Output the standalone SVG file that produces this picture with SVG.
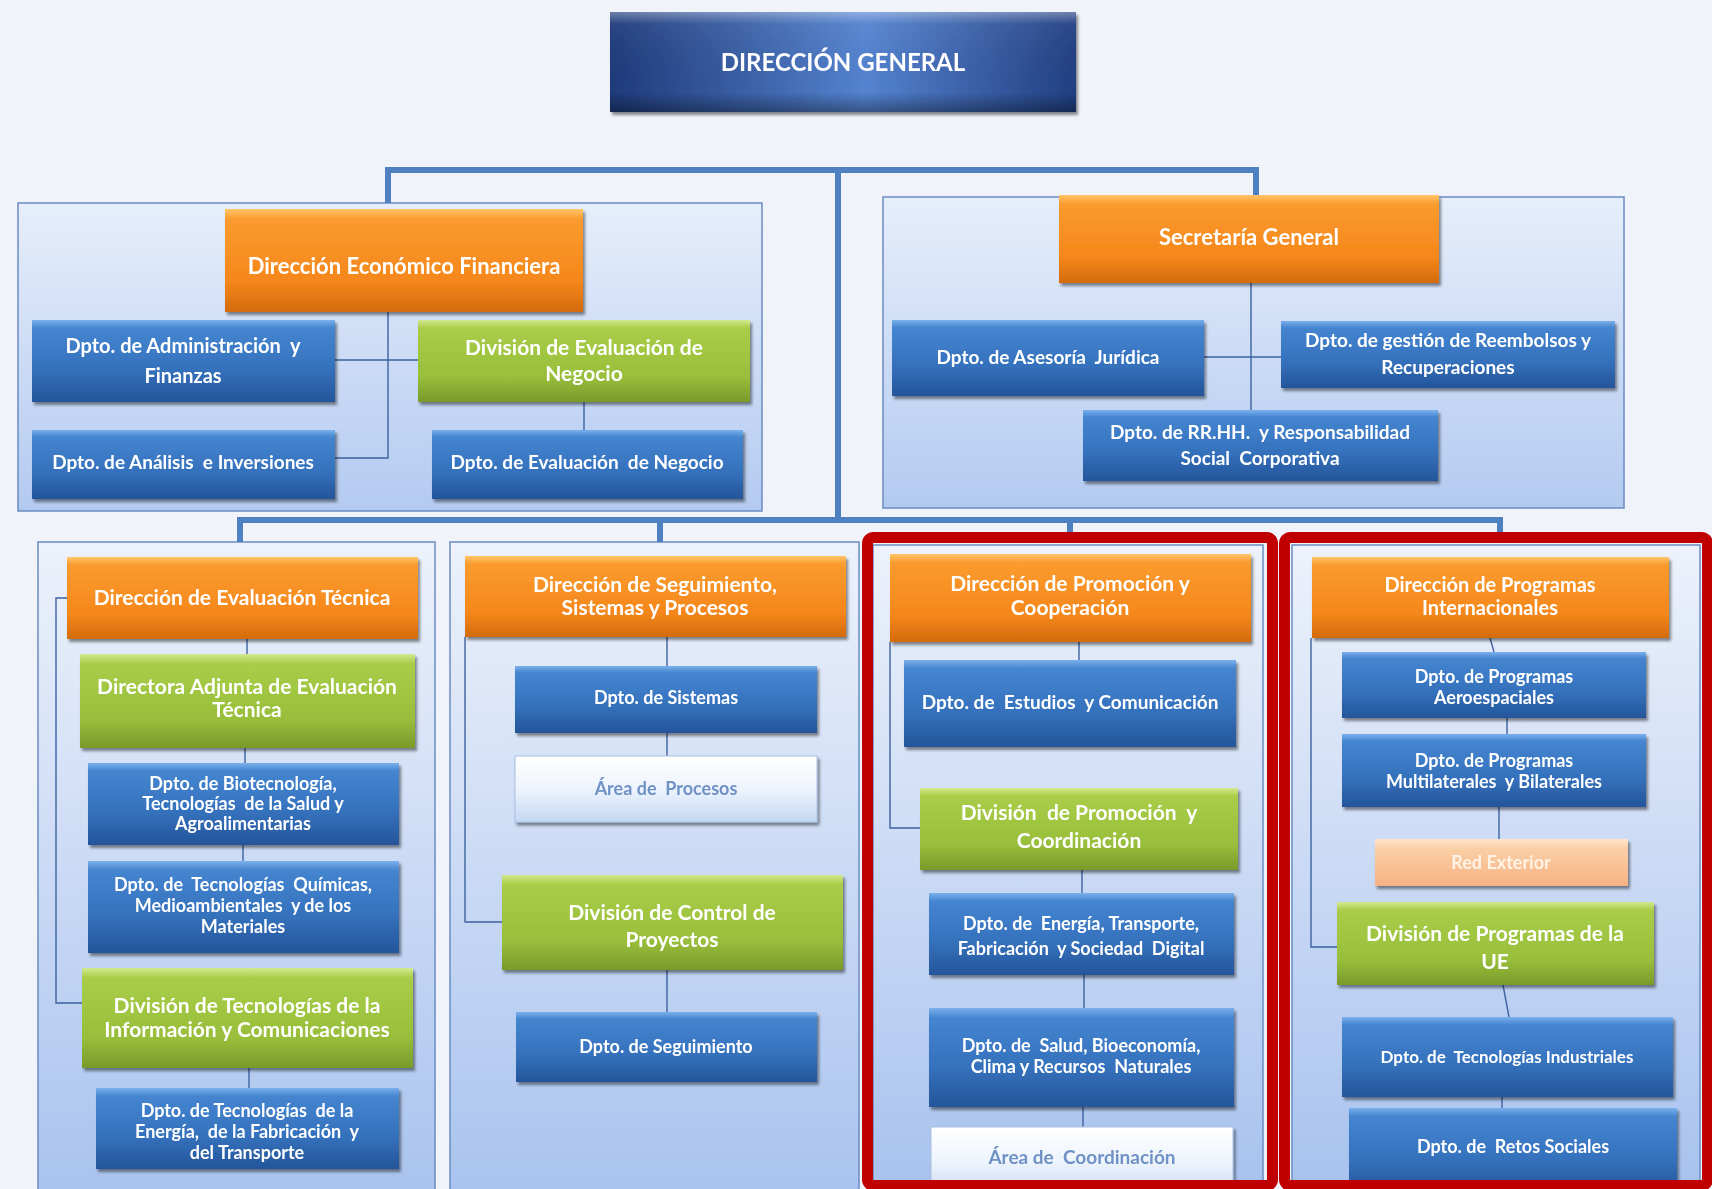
<svg xmlns="http://www.w3.org/2000/svg" width="1712" height="1189" viewBox="0 0 1712 1189">
<defs>
<linearGradient id="gBlue" x1="0" y1="0" x2="0" y2="1"><stop offset="0" stop-color="#7ab0ec"/><stop offset="0.1" stop-color="#4585d0"/><stop offset="0.6" stop-color="#3571bc"/><stop offset="1" stop-color="#24559a"/></linearGradient>
<linearGradient id="gOrange" x1="0" y1="0" x2="0" y2="1"><stop offset="0" stop-color="#ffc56a"/><stop offset="0.1" stop-color="#fb9b2e"/><stop offset="0.7" stop-color="#f5871b"/><stop offset="1" stop-color="#d36b0c"/></linearGradient>
<linearGradient id="gGreen" x1="0" y1="0" x2="0" y2="1"><stop offset="0" stop-color="#d3e88f"/><stop offset="0.1" stop-color="#a9cd48"/><stop offset="0.7" stop-color="#98be3b"/><stop offset="1" stop-color="#799a2a"/></linearGradient>
<linearGradient id="gLight" x1="0" y1="0" x2="0" y2="1"><stop offset="0" stop-color="#ffffff"/><stop offset="0.5" stop-color="#eef4fc"/><stop offset="1" stop-color="#c3d7f3"/></linearGradient>
<linearGradient id="gPeach" x1="0" y1="0" x2="0" y2="1"><stop offset="0" stop-color="#fde4cb"/><stop offset="0.2" stop-color="#fbcfa6"/><stop offset="1" stop-color="#f6b283"/></linearGradient>
<linearGradient id="gDG" x1="0" y1="0" x2="1" y2="0"><stop offset="0" stop-color="#1f3a7a"/><stop offset="0.55" stop-color="#5483d0"/><stop offset="1" stop-color="#223f82"/></linearGradient>
<linearGradient id="gDGv" x1="0" y1="0" x2="0" y2="1"><stop offset="0" stop-color="#ffffff" stop-opacity="0.35"/><stop offset="0.12" stop-color="#ffffff" stop-opacity="0.05"/><stop offset="0.8" stop-color="#000000" stop-opacity="0"/><stop offset="1" stop-color="#000000" stop-opacity="0.35"/></linearGradient>
<linearGradient id="gPanelTop" x1="0" y1="0" x2="0" y2="1"><stop offset="0" stop-color="#e6eefb"/><stop offset="1" stop-color="#b3caf0"/></linearGradient>
<linearGradient id="gPanel" x1="0" y1="0" x2="0" y2="1"><stop offset="0" stop-color="#edf2fb"/><stop offset="1" stop-color="#a6c1ee"/></linearGradient>
<filter id="sh" x="-5%" y="-10%" width="115%" height="130%"><feDropShadow dx="2" dy="3" stdDeviation="1.8" flood-color="#000" flood-opacity="0.45"/></filter>
</defs>
<style>
text{font-family:Lato,"Open Sans","Liberation Sans",sans-serif;font-weight:700;text-anchor:middle;fill:#ffffff;white-space:pre}
.t18{font-size:18px}.t19{font-size:19px}.t20{font-size:20px}.t21{font-size:21px}.t22{font-size:22px}
.panel{stroke:#6a8cc2;stroke-width:1.5}
.box{filter:url(#sh)}
.blue{fill:url(#gBlue)}.orange{fill:url(#gOrange)}.green{fill:url(#gGreen)}.light{fill:url(#gLight)}.peach{fill:url(#gPeach)}
.lt{fill:#6f91c6}.pt{fill:#fff3e6}
.bus{fill:none;stroke:#4f80c0;stroke-width:6}
.ln{fill:none;stroke:#3d62a0;stroke-width:1.4}
.red{fill:none;stroke:#c00000;stroke-width:11}
</style>
<rect width="1712" height="1189" fill="#f0f3fa"/>

<g id="panels">
<rect class="panel" x="18" y="203" width="744" height="308" fill="url(#gPanelTop)"/>
<rect class="panel" x="883" y="197" width="741" height="311" fill="url(#gPanelTop)"/>
<rect class="panel" x="38" y="542" width="397" height="680" fill="url(#gPanel)"/>
<rect class="panel" x="450" y="542" width="409" height="680" fill="url(#gPanel)"/>
<rect class="panel" x="873" y="545" width="390" height="660" fill="url(#gPanel)"/>
<rect class="panel" x="1292" y="545" width="408" height="660" fill="url(#gPanel)"/>
</g>

<g id="connectors">
<path class="bus" d="M388,203 V170 H1256 V197"/>
<path class="bus" d="M838,170 V520"/>
<path class="bus" d="M240,542 V520 H1500 V532 M660,520 V542 M1070,520 V532"/>
<path class="ln" d="M388,312 V458 H335 M335,360 H418 M584,402 V430"/>
<path class="ln" d="M1251,283 V410 M1204,357 H1281"/>
<path class="ln" d="M67,598 H56 V1003 H82 M247,639 V654 M245,748 V763 M243,845 V861 M249,1068 V1088"/>
<path class="ln" d="M465,637 V922 H502 M667,637 V666 M667,733 V756 M667,970 V1012"/>
<path class="ln" d="M890,642 V828 H920 M1079,642 V660 M1082,870 V893 M1084,975 V1008 M1083,1107 V1127"/>
<path class="ln" d="M1311,638 V947 H1337 M1490,638 L1494,652 M1507,718 V734 M1499,807 V839 M1503,985 L1509,1017 M1502,1097 V1108"/>
</g>

<g id="n-dg" class="box">
<rect x="610" y="12" width="466" height="100" fill="url(#gDG)"/>
<rect x="610" y="12" width="466" height="100" fill="url(#gDGv)"/>
<text x="843" y="71" style="font-size:24px">DIRECCIÓN GENERAL</text>
</g>

<g id="n-def" class="box"><rect class="orange" x="225" y="209" width="358" height="103"/><text class="t22" x="404" y="274">Dirección Económico Financiera</text></g>
<g id="n-admin" class="box"><rect class="blue" x="32" y="320" width="303" height="82"/><text class="t20" x="183" y="353">Dpto. de Administración  y</text><text class="t20" x="183" y="383">Finanzas</text></g>
<g id="n-diveval" class="box"><rect class="green" x="418" y="320" width="332" height="82"/><text class="t21" x="584" y="355">División de Evaluación de</text><text class="t21" x="584" y="381">Negocio</text></g>
<g id="n-analisis" class="box"><rect class="blue" x="32" y="430" width="303" height="69"/><text class="t19" x="183" y="469">Dpto. de Análisis  e Inversiones</text></g>
<g id="n-evalneg" class="box"><rect class="blue" x="432" y="430" width="311" height="69"/><text class="t19" x="587" y="469">Dpto. de Evaluación  de Negocio</text></g>

<g id="n-sg" class="box"><rect class="orange" x="1059" y="195" width="380" height="88"/><text class="t22" x="1249" y="245">Secretaría General</text></g>
<g id="n-asesoria" class="box"><rect class="blue" x="892" y="320" width="312" height="76"/><text class="t19" x="1048" y="364">Dpto. de Asesoría  Jurídica</text></g>
<g id="n-reembolsos" class="box"><rect class="blue" x="1281" y="321" width="334" height="67"/><text class="t19" x="1448" y="347">Dpto. de gestión de Reembolsos y</text><text class="t19" x="1448" y="374">Recuperaciones</text></g>
<g id="n-rrhh" class="box"><rect class="blue" x="1083" y="410" width="355" height="71"/><text class="t19" x="1260" y="439">Dpto. de RR.HH.  y Responsabilidad</text><text class="t19" x="1260" y="465">Social  Corporativa</text></g>

<g id="n-det" class="box"><rect class="orange" x="67" y="557" width="351" height="82"/><text class="t21" x="242" y="605">Dirección de Evaluación Técnica</text></g>
<g id="n-diradj" class="box"><rect class="green" x="80" y="654" width="335" height="94"/><text class="t21" x="247" y="694">Directora Adjunta de Evaluación</text><text class="t21" x="247" y="717">Técnica</text></g>
<g id="n-biotec" class="box"><rect class="blue" x="88" y="763" width="311" height="82"/><text class="t18" x="243" y="790">Dpto. de Biotecnología,</text><text class="t18" x="243" y="810">Tecnologías  de la Salud y</text><text class="t18" x="243" y="830">Agroalimentarias</text></g>
<g id="n-quimicas" class="box"><rect class="blue" x="88" y="861" width="311" height="92"/><text class="t18" x="243" y="891">Dpto. de  Tecnologías  Químicas,</text><text class="t18" x="243" y="912">Medioambientales  y de los</text><text class="t18" x="243" y="933">Materiales</text></g>
<g id="n-divtic" class="box"><rect class="green" x="82" y="968" width="331" height="100"/><text class="t21" x="247" y="1013">División de Tecnologías de la</text><text class="t21" x="247" y="1037">Información y Comunicaciones</text></g>
<g id="n-energia" class="box"><rect class="blue" x="96" y="1088" width="303" height="81"/><text class="t18" x="247" y="1117">Dpto. de Tecnologías  de la</text><text class="t18" x="247" y="1138">Energía,  de la Fabricación  y</text><text class="t18" x="247" y="1159">del Transporte</text></g>

<g id="n-dssp" class="box"><rect class="orange" x="465" y="556" width="381" height="81"/><text class="t21" x="655" y="592">Dirección de Seguimiento,</text><text class="t21" x="655" y="615">Sistemas y Procesos</text></g>
<g id="n-sistemas" class="box"><rect class="blue" x="515" y="666" width="302" height="67"/><text class="t18" x="666" y="704">Dpto. de Sistemas</text></g>
<g id="n-procesos" class="box"><rect class="light" x="515" y="756" width="302" height="66" stroke="#a9c0e4" stroke-width="1"/><text class="t18 lt" x="666" y="795">Área de  Procesos</text></g>
<g id="n-divcontrol" class="box"><rect class="green" x="502" y="875" width="341" height="95"/><text class="t21" x="672" y="920">División de Control de</text><text class="t21" x="672" y="947">Proyectos</text></g>
<g id="n-seguimiento" class="box"><rect class="blue" x="516" y="1012" width="301" height="70"/><text class="t18" x="666" y="1053">Dpto. de Seguimiento</text></g>

<g id="n-dpc" class="box"><rect class="orange" x="890" y="554" width="361" height="88"/><text class="t21" x="1070" y="591">Dirección de Promoción y</text><text class="t21" x="1070" y="615">Cooperación</text></g>
<g id="n-estudios" class="box"><rect class="blue" x="904" y="660" width="332" height="87"/><text class="t19" x="1070" y="709">Dpto. de  Estudios  y Comunicación</text></g>
<g id="n-divprom" class="box"><rect class="green" x="920" y="788" width="318" height="82"/><text class="t21" x="1079" y="820">División  de Promoción  y</text><text class="t21" x="1079" y="848">Coordinación</text></g>
<g id="n-energiat" class="box"><rect class="blue" x="929" y="893" width="305" height="82"/><text class="t18" x="1081" y="930">Dpto. de  Energía, Transporte,</text><text class="t18" x="1081" y="955">Fabricación  y Sociedad  Digital</text></g>
<g id="n-salud" class="box"><rect class="blue" x="929" y="1008" width="305" height="99"/><text class="t18" x="1081" y="1052">Dpto. de  Salud, Bioeconomía,</text><text class="t18" x="1081" y="1073">Clima y Recursos  Naturales</text></g>
<g id="n-coord" class="box"><rect class="light" x="931" y="1127" width="302" height="70" stroke="#a9c0e4" stroke-width="1"/><text class="t19 lt" x="1082" y="1164">Área de  Coordinación</text></g>

<g id="n-dpi" class="box"><rect class="orange" x="1312" y="557" width="357" height="81"/><text class="t20" x="1490" y="592">Dirección de Programas</text><text class="t20" x="1490" y="615">Internacionales</text></g>
<g id="n-aero" class="box"><rect class="blue" x="1342" y="652" width="304" height="66"/><text class="t18" x="1494" y="683">Dpto. de Programas</text><text class="t18" x="1494" y="704">Aeroespaciales</text></g>
<g id="n-multi" class="box"><rect class="blue" x="1342" y="734" width="304" height="73"/><text class="t18" x="1494" y="767">Dpto. de Programas</text><text class="t18" x="1494" y="788">Multilaterales  y Bilaterales</text></g>
<g id="n-redext" class="box"><rect class="peach" x="1375" y="839" width="253" height="47"/><text class="t18 pt" x="1501" y="869">Red Exterior</text></g>
<g id="n-divue" class="box"><rect class="green" x="1337" y="902" width="317" height="83"/><text class="t21" x="1495" y="941">División de Programas de la</text><text class="t21" x="1495" y="969">UE</text></g>
<g id="n-tecind" class="box"><rect class="blue" x="1342" y="1017" width="331" height="80"/><text x="1507" y="1063" style="font-size:17px">Dpto. de  Tecnologías Industriales</text></g>
<g id="n-retos" class="box"><rect class="blue" x="1349" y="1108" width="328" height="85"/><text class="t18" x="1513" y="1153">Dpto. de  Retos Sociales</text></g>

<g id="highlights">
<rect class="red" x="867.5" y="537.5" width="405" height="648" rx="6"/>
<rect class="red" x="1284.5" y="537.5" width="423" height="648" rx="6"/>
</g>
</svg>
